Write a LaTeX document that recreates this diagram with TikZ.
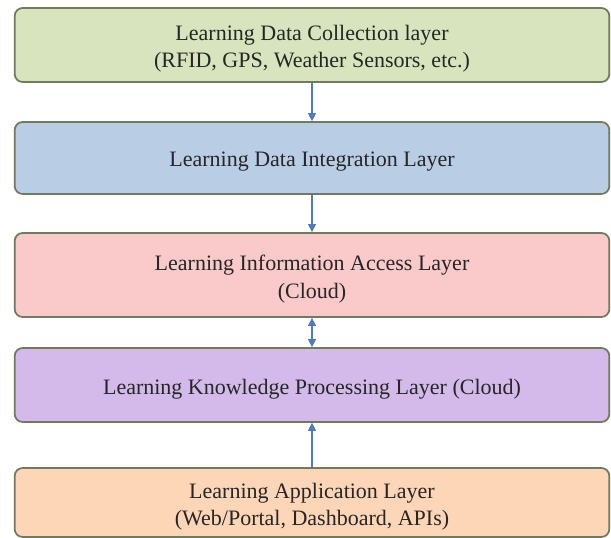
\documentclass[tikz,border=0pt]{standalone}
\usepackage{fontspec}
\setmainfont{Liberation Serif}
\usetikzlibrary{arrows.meta}

\definecolor{edgeline}{RGB}{112,122,92}
\definecolor{arrowblue}{RGB}{80,124,184}
\definecolor{collectfill}{RGB}{215,228,189}
\definecolor{integfill}{RGB}{185,205,229}
\definecolor{accessfill}{RGB}{250,202,202}
\definecolor{knowfill}{RGB}{212,186,234}
\definecolor{appfill}{RGB}{252,214,182}

\tikzset{
  layerbox/.style={draw=edgeline, line width=1.3pt, rounded corners=6pt,
    minimum width=446pt},
  layertext/.style={align=center, text=black!85, yshift=-3pt,
    font=\fontsize{16.5}{20.5}\selectfont},
  flowline/.style={draw=arrowblue, line width=0.8pt},
  tipblue/.style={-{Triangle[width=6pt,length=6pt]}},
}

\begin{document}
\begin{tikzpicture}[x=0.75pt,y=0.75pt,yscale=-1,xscale=1]
\path[use as bounding box] (0,0) rectangle (611,538);

% Text Node
\node [layerbox, fill=collectfill, minimum height=55.5pt] (collect) at (312,45) {};
\node [layertext] (collect-t) at (collect.center)
  {Learning Data Collection layer\\(RFID, GPS, Weather Sensors, etc.)};
% Text Node
\node [layerbox, fill=integfill, minimum height=54pt] (integ) at (312,158) {};
\node [layertext] (integ-t) at (integ.center)
  {Learning Data Integration Layer};
% Text Node
\node [layerbox, fill=accessfill, minimum height=63pt] (access) at (312,275) {};
\node [layertext] (access-t) at (access.center)
  {Learning Information Access Layer\\(Cloud)};
% Text Node
\node [layerbox, fill=knowfill, minimum height=55.5pt] (know) at (312,385) {};
\node [layertext] (know-t) at (know.center)
  {Learning Knowledge Processing Layer (Cloud)};
% Text Node
\node [layerbox, fill=appfill, minimum height=51.75pt] (app) at (312,502.5) {};
\node [layertext] (app-t) at (app.center)
  {Learning Application Layer\\(Web/Portal, Dashboard, APIs)};

%Straight Lines
\draw [flowline, tipblue] (collect.south) -- (integ.north) ;
%Straight Lines
\draw [flowline, tipblue] (integ.south) -- (access.north) ;
%Straight Lines
\draw [flowline, {Triangle[width=6pt,length=6pt]}-{Triangle[width=6pt,length=6pt]}] (access.south) -- (know.north) ;
%Straight Lines
\draw [flowline, tipblue] (app.north) -- (know.south) ;

\end{tikzpicture}
\end{document}
